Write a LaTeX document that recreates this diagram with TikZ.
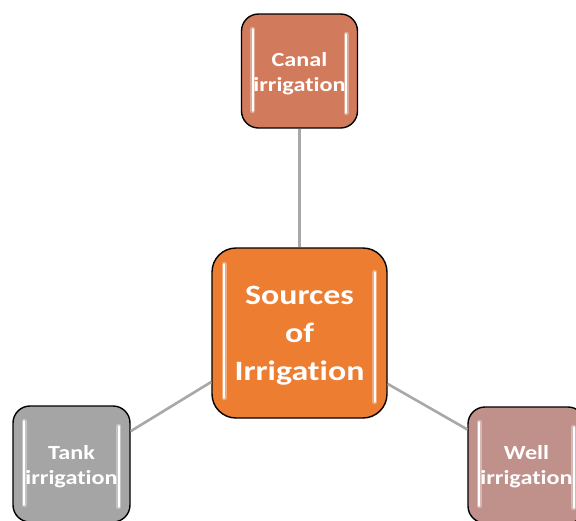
\documentclass[tikz,border=0pt]{standalone}
\usepackage{fontspec}
\setmainfont{Carlito}[Ligatures=NoCommon, FakeStretch=1.21]
\definecolor{canalc}{HTML}{D27B5C}
\definecolor{centerc}{HTML}{ED7D31}
\definecolor{tankc}{HTML}{A5A5A5}
\definecolor{wellc}{HTML}{C0918B}
\definecolor{linkc}{HTML}{A8A8A8}
\tikzset{
  tile/.style={rectangle, rounded corners=17pt, draw=black, line width=1.4pt,
    text=white, font=\bfseries\fontsize{20}{25}\selectfont, align=center,
    inner sep=0pt},
  bigtile/.style={tile, rounded corners=24pt, font=\bfseries\fontsize{28}{38}\selectfont},
  link/.style={draw=linkc, line width=2.6pt},
  shine/.style={draw=white, line width=2.2pt, line cap=round},
  halo/.style={draw=white, line width=5pt, line cap=round, opacity=0.35}
}
% vertical glossy highlight strips inside a tile
\newcommand{\glossy}[5]{%
  \draw[halo] ([xshift=#2pt,yshift=-#3pt]#1.north west) -- ([xshift=#2pt,yshift=#4pt]#1.south west);
  \draw[shine] ([xshift=#2pt,yshift=-#3pt]#1.north west) -- ([xshift=#2pt,yshift=#4pt]#1.south west);
  \draw[halo] ([xshift=-#2pt,yshift=-#5pt]#1.north east) -- ([xshift=-#2pt,yshift=#3pt]#1.south east);
  \draw[shine] ([xshift=-#2pt,yshift=-#5pt]#1.north east) -- ([xshift=-#2pt,yshift=#3pt]#1.south east);
}
\begin{document}
\begin{tikzpicture}[x=1pt,y=-1pt]
\clip (0,0) rectangle (576,520);
\fill[white] (0,0) rectangle (576,520);

% tiles
\node[bigtile, fill=centerc, minimum width=175pt, minimum height=170pt] (src) at (299.5,333) {};
\node[tile, fill=canalc, minimum width=116pt, minimum height=114pt] (canal) at (299.5,71) {};
\node[tile, fill=tankc, minimum width=117pt, minimum height=116pt] (tank) at (71.5,464) {};
\node[tile, fill=wellc, minimum width=117pt, minimum height=116pt] (well) at (526.5,465) {};

% connectors
\draw[link] (canal.south) -- (src.north);
\draw[link] (src.209.7) -- (tank.29);
\draw[link] (src.330) -- (well.149);

% highlights
\glossy{canal}{12}{16}{18}{21}
\glossy{src}{13}{17}{21}{25}
\glossy{tank}{12}{16}{18}{21}
\glossy{well}{12}{16}{18}{21}

% labels
\node[bigtile, draw=none, text=white] (srct) at (299.5,336) {Sources\\of\\Irrigation};
\node[tile, draw=none] (canalt) at (299.5,74) {Canal\\irrigation};
\node[tile, draw=none] (tankt) at (71.5,467) {Tank\\irrigation};
\node[tile, draw=none] (wellt) at (526.5,467) {Well\\irrigation};
\end{tikzpicture}
\end{document}
